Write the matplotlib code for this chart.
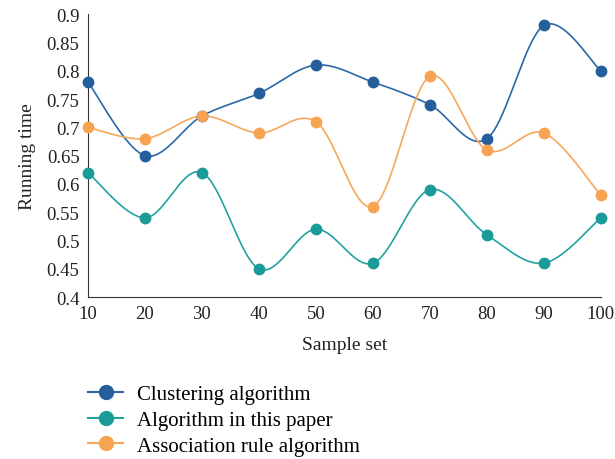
import numpy as np
import matplotlib
matplotlib.use("Agg")
import matplotlib.pyplot as plt
from matplotlib.lines import Line2D

# ----- DATA -----
sample_set = [10, 20, 30, 40, 50, 60, 70, 80, 90, 100]
clustering = [0.78, 0.65, 0.72, 0.76, 0.81, 0.78, 0.74, 0.68, 0.88, 0.80]
this_paper = [0.62, 0.54, 0.62, 0.45, 0.52, 0.46, 0.59, 0.51, 0.46, 0.54]
assoc_rule = [0.70, 0.68, 0.72, 0.69, 0.71, 0.56, 0.79, 0.66, 0.69, 0.58]
y_ticks = [0.4, 0.45, 0.5, 0.55, 0.6, 0.65, 0.7, 0.75, 0.8, 0.85, 0.9]
y_labels = ["0.4", "0.45", "0.5", "0.55", "0.6", "0.65", "0.7", "0.75", "0.8", "0.85", "0.9"]

plt.rcParams['font.family'] = ['Liberation Serif', 'DejaVu Serif']


# ----- SMOOTH LINE (excel style bezier) -----
def smooth(xs, ys, n=40):
    xs = np.asarray(xs, float)
    ys = np.asarray(ys, float)
    px = np.concatenate(([xs[0]], xs, [xs[-1]]))
    py = np.concatenate(([ys[0]], ys, [ys[-1]]))
    outx, outy = [], []
    t = np.linspace(0, 1, n)
    for i in range(len(xs) - 1):
        p0 = np.array([px[i + 1], py[i + 1]])
        p3 = np.array([px[i + 2], py[i + 2]])
        c1 = p0 + (np.array([px[i + 2], py[i + 2]]) - np.array([px[i], py[i]])) / 6
        c2 = p3 - (np.array([px[i + 3], py[i + 3]]) - np.array([px[i + 1], py[i + 1]])) / 6
        b = ((1 - t) ** 3)[:, None] * p0 + (3 * (1 - t) ** 2 * t)[:, None] * c1 \
            + (3 * (1 - t) * t ** 2)[:, None] * c2 + (t ** 3)[:, None] * p3
        outx.extend(b[:, 0])
        outy.extend(b[:, 1])
    return outx, outy


fig = plt.figure(figsize=(6.15, 4.6), dpi=100)
ax = fig.add_axes([0.143, 0.352, 0.834, 0.615])

series = [
    ("Clustering algorithm", clustering, '#2a69a8', '#245f9b'),
    ("Algorithm in this paper", this_paper, '#22a3a0', '#1b9b97'),
    ("Association rule algorithm", assoc_rule, '#f7a85a', '#f6a452'),
]

handles = []
for name, vals, lc, mc in series:
    sx, sy = smooth(sample_set, vals)
    ax.plot(sx, sy, color=lc, lw=1.2, zorder=2)
    ax.plot(sample_set, vals, 'o', color=mc, ms=7.5, zorder=3, clip_on=False)
    handles.append(Line2D([0], [0], color=lc, lw=1.5, marker='o', ms=10,
                          markerfacecolor=mc, markeredgecolor=mc, label=name))

ax.set_xlim(10, 100)
ax.set_ylim(0.4, 0.9)
ax.set_xticks(sample_set)
ax.set_yticks(y_ticks)
ax.set_yticklabels(y_labels)
ax.tick_params(length=0, labelsize=13.5, colors='#222222', pad=6)
ax.spines['top'].set_visible(False)
ax.spines['right'].set_visible(False)
ax.spines['left'].set_color('#333333')
ax.spines['bottom'].set_color('#333333')
ax.set_xlabel("Sample set", fontsize=14, color='#222222', labelpad=10)
ax.set_ylabel("Running time", fontsize=14, color='#222222', labelpad=8)

fig.legend(handles=handles, loc='upper left', bbox_to_anchor=(0.143, 0.162),
           bbox_transform=fig.transFigure, frameon=False, fontsize=15,
           handlelength=1.7, handletextpad=0.67, labelspacing=0.3,
           borderaxespad=0, borderpad=0)

fig.savefig("out.png", dpi=100)
